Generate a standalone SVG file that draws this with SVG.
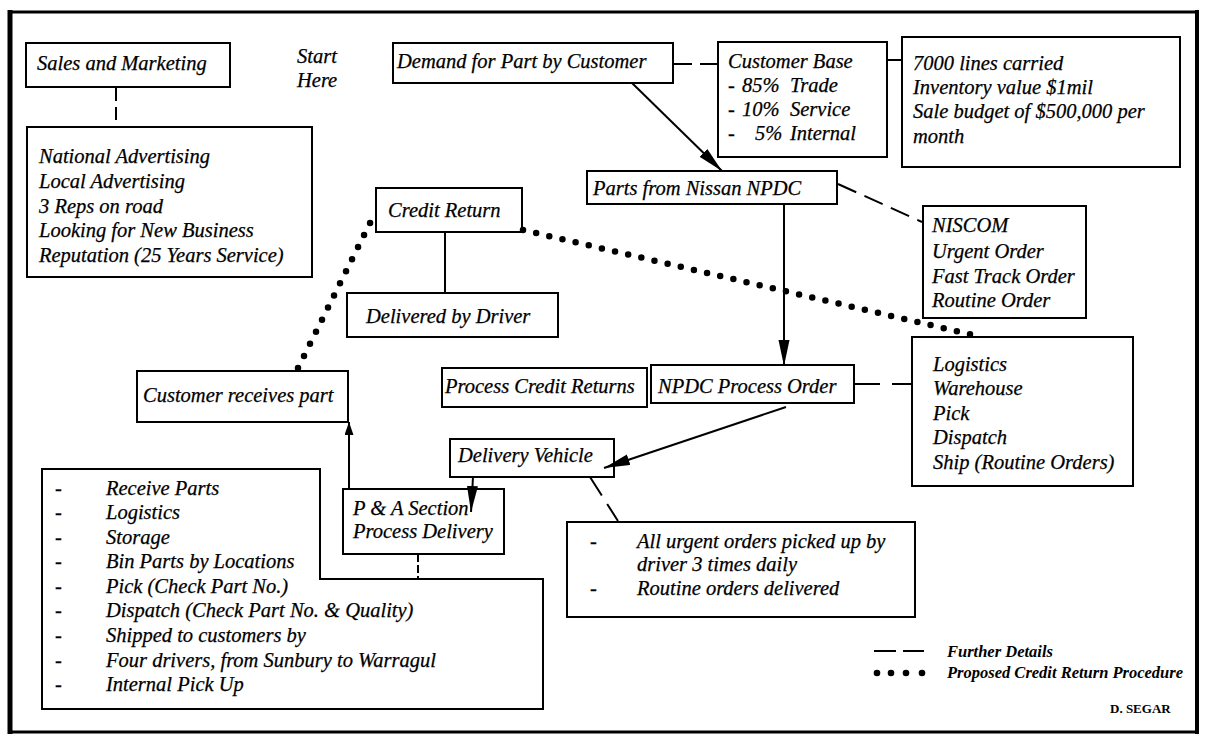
<svg xmlns="http://www.w3.org/2000/svg" width="1205" height="738" viewBox="0 0 1205 738">
  <style>
    .box { fill: #fff; stroke: #000; stroke-width: 2; }
    .t { font-family: "Liberation Serif", "Times New Roman", serif; font-style: italic; font-size: 20.5px; fill: #000; stroke: #000; stroke-width: 0.25; }
    .leg { font-family: "Liberation Serif", "Times New Roman", serif; font-style: italic; font-weight: bold; font-size: 16.5px; fill: #000; }
    .sig { font-family: "Liberation Serif", "Times New Roman", serif; font-weight: bold; font-size: 13px; fill: #000; }
    .conn { stroke: #000; stroke-width: 2; fill: none; }
    .dash { stroke-dasharray: 20 9; }
    .dots { stroke-width: 6.5; stroke-linecap: round; stroke-dasharray: 0 13.5; }
    .frame { stroke: #000; fill: none; }
  </style>
  <defs>
    <marker id="ah" markerUnits="userSpaceOnUse" markerWidth="28" markerHeight="12" refX="26" refY="5.5" orient="auto">
      <path d="M0,0 L26,5.5 L0,11 z" fill="#000"/>
    </marker>
    <marker id="ahs" markerUnits="userSpaceOnUse" markerWidth="15" markerHeight="10" refX="13" refY="4.5" orient="auto">
      <path d="M0,0 L13,4.5 L0,9 z" fill="#000"/>
    </marker>
  </defs>

  <rect width="1205" height="738" fill="#fff"/>

  <!-- page frame -->
  <g id="frame">
    <line class="frame" x1="8" y1="12" x2="1199" y2="12" stroke-width="3"/>
    <line class="frame" x1="10" y1="10" x2="10" y2="734" stroke-width="5"/>
    <line class="frame" x1="1197" y1="10" x2="1197" y2="734" stroke-width="4"/>
    <line class="frame" x1="8" y1="732" x2="1199" y2="732" stroke-width="3"/>
  </g>

  <g id="sales-marketing">
    <rect class="box" x="26" y="43" width="204" height="44"/>
    <text class="t" x="37" y="70">Sales and Marketing</text>
  </g>

  <g id="start-here">
    <text class="t" x="297" y="63">Start</text>
    <text class="t" x="297" y="87">Here</text>
  </g>

  <g id="sales-details">
    <rect class="box" x="27" y="127" width="285" height="150"/>
    <text class="t" x="39" y="163">National Advertising</text>
    <text class="t" x="39" y="188">Local Advertising</text>
    <text class="t" x="39" y="213">3 Reps on road</text>
    <text class="t" x="39" y="237">Looking for New Business</text>
    <text class="t" x="39" y="262">Reputation (25 Years Service)</text>
  </g>

  <g id="demand">
    <rect class="box" x="393" y="43" width="280" height="40"/>
    <text class="t" x="397" y="68">Demand for Part by Customer</text>
  </g>

  <g id="customer-base">
    <rect class="box" x="718" y="42" width="169" height="115"/>
    <text class="t" x="728" y="68">Customer Base</text>
    <text class="t" y="92"><tspan x="728">-</tspan><tspan x="742">85%</tspan><tspan x="790">Trade</tspan></text>
    <text class="t" y="116"><tspan x="728">-</tspan><tspan x="742">10%</tspan><tspan x="790">Service</tspan></text>
    <text class="t" y="140"><tspan x="728">-</tspan><tspan x="755">5%</tspan><tspan x="790">Internal</tspan></text>
  </g>

  <g id="inventory">
    <rect class="box" x="902" y="37" width="278" height="130"/>
    <text class="t" x="913" y="70">7000 lines carried</text>
    <text class="t" x="913" y="94">Inventory value $1mil</text>
    <text class="t" x="913" y="118">Sale budget of $500,000 per</text>
    <text class="t" x="913" y="143">month</text>
  </g>

  <g id="parts-nissan">
    <rect class="box" x="587" y="171" width="250" height="33"/>
    <text class="t" x="593" y="195">Parts from Nissan NPDC</text>
  </g>

  <g id="credit-return">
    <rect class="box" x="376" y="188" width="146" height="44"/>
    <text class="t" x="388" y="217">Credit Return</text>
  </g>

  <g id="delivered-driver">
    <rect class="box" x="347" y="293" width="211" height="44"/>
    <text class="t" x="366" y="323">Delivered by Driver</text>
  </g>

  <g id="niscom">
    <rect class="box" x="923" y="206" width="163" height="112"/>
    <text class="t" x="932" y="232">NISCOM</text>
    <text class="t" x="932" y="258">Urgent Order</text>
    <text class="t" x="932" y="283">Fast Track Order</text>
    <text class="t" x="932" y="307">Routine Order</text>
  </g>

  <g id="logistics">
    <rect class="box" x="912" y="337" width="221" height="149"/>
    <text class="t" x="933" y="371">Logistics</text>
    <text class="t" x="933" y="395">Warehouse</text>
    <text class="t" x="933" y="420">Pick</text>
    <text class="t" x="933" y="444">Dispatch</text>
    <text class="t" x="933" y="469">Ship (Routine Orders)</text>
  </g>

  <g id="process-credit-returns">
    <rect class="box" x="442" y="368" width="205" height="39"/>
    <text class="t" x="445" y="393">Process Credit Returns</text>
  </g>

  <g id="npdc-process-order">
    <rect class="box" x="651" y="365" width="203" height="38"/>
    <text class="t" x="658" y="393">NPDC Process Order</text>
  </g>

  <g id="customer-receives">
    <rect class="box" x="137" y="371" width="211" height="51"/>
    <text class="t" x="143" y="402">Customer receives part</text>
  </g>

  <g id="delivery-vehicle">
    <rect class="box" x="450" y="439" width="164" height="38"/>
    <text class="t" x="458" y="462">Delivery Vehicle</text>
  </g>

  <g id="pa-list">
    <polygon class="box" points="42,469 320,469 320,579 543,579 543,709 42,709"/>
    <text class="t" y="495"><tspan x="55">-</tspan><tspan x="106">Receive Parts</tspan></text>
    <text class="t" y="519"><tspan x="55">-</tspan><tspan x="106">Logistics</tspan></text>
    <text class="t" y="544"><tspan x="55">-</tspan><tspan x="106">Storage</tspan></text>
    <text class="t" y="568"><tspan x="55">-</tspan><tspan x="106">Bin Parts by Locations</tspan></text>
    <text class="t" y="593"><tspan x="55">-</tspan><tspan x="106">Pick (Check Part No.)</tspan></text>
    <text class="t" y="617"><tspan x="55">-</tspan><tspan x="106">Dispatch (Check Part No. &amp; Quality)</tspan></text>
    <text class="t" y="642"><tspan x="55">-</tspan><tspan x="106">Shipped to customers by</tspan></text>
    <text class="t" y="667"><tspan x="55">-</tspan><tspan x="106">Four drivers, from Sunbury to Warragul</tspan></text>
    <text class="t" y="691"><tspan x="55">-</tspan><tspan x="106">Internal Pick Up</tspan></text>
  </g>

  <g id="pa-section">
    <rect class="box" x="343" y="489" width="161" height="65"/>
    <text class="t" x="353" y="515">P &amp; A Section</text>
    <text class="t" x="353" y="538">Process Delivery</text>
  </g>

  <g id="urgent-orders">
    <rect class="box" x="567" y="522" width="348" height="95"/>
    <text class="t" y="548"><tspan x="590">-</tspan><tspan x="637">All urgent orders picked up by</tspan></text>
    <text class="t" x="637" y="571">driver 3 times daily</text>
    <text class="t" y="595"><tspan x="590">-</tspan><tspan x="637">Routine orders delivered</tspan></text>
  </g>

  <!-- connectors, drawn over the boxes so arrowheads that dip into a box stay visible -->
  <g id="connectors">
    <path class="conn" d="M116,88 V127" stroke-dasharray="13 6"/>
    <path class="conn" d="M673,64 H718" stroke-dasharray="19 8"/>
    <path class="conn" d="M887,60 H902"/>
    <path class="conn" d="M632,83 L722,171" marker-end="url(#ah)"/>
    <path class="conn dash" d="M838,184 L922,222"/>
    <path class="conn" d="M784,204 V366" marker-end="url(#ah)"/>
    <path class="conn" d="M445,232 V293"/>
    <path class="conn" d="M854,384 H912" stroke-dasharray="26 12"/>
    <path class="conn" d="M786,407 L604,468" marker-end="url(#ah)"/>
    <path class="conn" d="M473,477 L471,512" marker-end="url(#ah)"/>
    <path class="conn" d="M349,489 V422" marker-end="url(#ahs)"/>
    <path class="conn" d="M418,554 V579" stroke-dasharray="8 3"/>
    <path class="conn" d="M590,477 L618,521" stroke-dasharray="22 10"/>
    <path class="conn dots" d="M298,368 L373,217"/>
    <path class="conn dots" d="M523,230 L973,335"/>
  </g>

  <g id="legend">
    <line class="conn" x1="874" y1="651" x2="896" y2="651"/>
    <line class="conn" x1="903" y1="651" x2="924" y2="651"/>
    <circle cx="877" cy="673" r="3.3"/>
    <circle cx="891" cy="673" r="3.3"/>
    <circle cx="906" cy="673" r="3.3"/>
    <circle cx="922" cy="673" r="3.3"/>
    <text class="leg" x="947" y="657">Further Details</text>
    <text class="leg" x="947" y="678">Proposed Credit Return Procedure</text>
  </g>

  <g id="signature">
    <text class="sig" x="1110" y="713">D. SEGAR</text>
  </g>
</svg>
